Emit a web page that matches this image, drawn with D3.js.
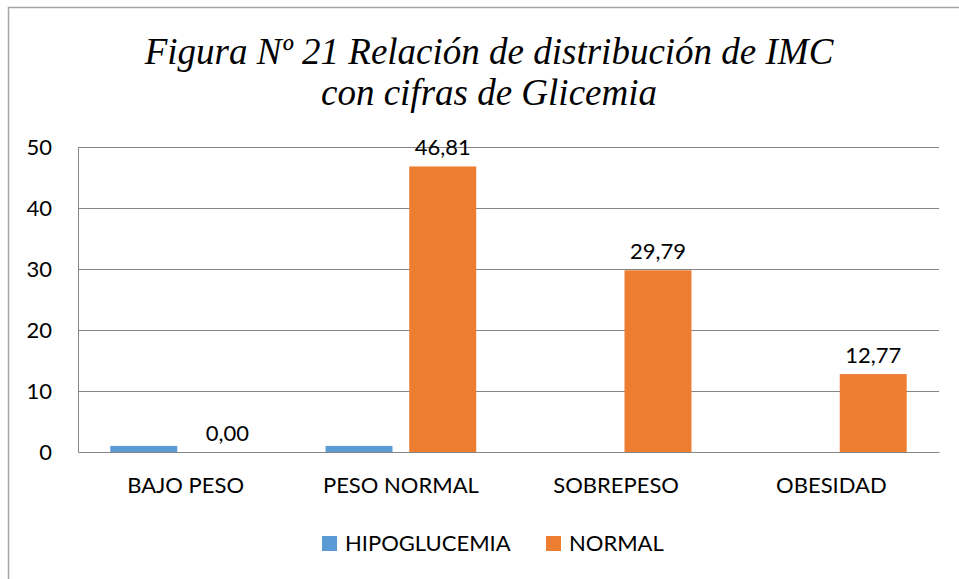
<!DOCTYPE html>
<html>
<head>
<meta charset="utf-8">
<script src="https://cdn.jsdelivr.net/npm/d3@7"></script>
<style>
  body { margin: 0; background: #fff; }
  svg text { font-family: Lato, "Open Sans", sans-serif; fill: #000; }
  svg text.title { font-family: "Liberation Serif", "Times New Roman", serif; font-style: italic; }
</style>
</head>
<body>
<div id="chart"></div>
<script>
// --- data ---
const categories = ["BAJO PESO", "PESO NORMAL", "SOBREPESO", "OBESIDAD"];
const seriesNames = ["HIPOGLUCEMIA", "NORMAL"];
const hipoglucemia = [1, 1, 0, 0];
const normal = [0.00, 46.81, 29.79, 12.77];
const yTicks = [0, 10, 20, 30, 40, 50];
const colors = ["#5b9bd5", "#ed7d31"];

const W = 959, H = 579;
const plot = { left: 78, right: 939, top: 147, bottom: 452 };
const fontSize = "22px";

const svg = d3.select("#chart").append("svg")
    .attr("width", W)
    .attr("height", H);

// chart frame
svg.append("rect")
    .attr("x", 8.5).attr("y", 7.5)
    .attr("width", W + 20).attr("height", H + 20)
    .attr("fill", "#fff")
    .attr("stroke", "#a6a6a6")
    .attr("stroke-width", 1.5);

// title
const title = svg.append("text")
    .attr("class", "title")
    .attr("text-anchor", "middle")
    .style("font-size", "37px");
title.append("tspan").attr("x", 489).attr("y", 64).text("Figura Nº 21 Relación de distribución de IMC");
title.append("tspan").attr("x", 489).attr("y", 105).text("con cifras de Glicemia");

const x0 = d3.scaleBand()
    .domain(categories)
    .range([plot.left, plot.right])
    .paddingInner(0.3)
    .paddingOuter(0.15);

const x1 = d3.scaleBand()
    .domain(seriesNames)
    .range([0, x0.bandwidth()])
    .paddingInner(0.2);

const y = d3.scaleLinear()
    .domain([0, 50])
    .range([plot.bottom, plot.top]);

// gridlines
svg.append("g")
    .selectAll("line")
    .data(yTicks.filter(d => d > 0))
    .join("line")
    .attr("x1", plot.left).attr("x2", plot.right)
    .attr("y1", d => Math.round(y(d)) + 0.5)
    .attr("y2", d => Math.round(y(d)) + 0.5)
    .attr("stroke", "#868686")
    .attr("stroke-width", 1);

// y axis labels
const yAxis = svg.append("g")
    .attr("transform", `translate(${plot.left},0)`)
    .call(d3.axisLeft(y).tickValues(yTicks).tickSize(0).tickPadding(26).tickFormat(d3.format("d")));
yAxis.select(".domain").attr("stroke", "#868686");
yAxis.selectAll("text")
    .style("font-size", fontSize)
    .style("font-family", "Lato, sans-serif")
    .attr("fill", "#000");

// bars
const rows = categories.map((c, i) => ({ cat: c, vals: [hipoglucemia[i], normal[i]] }));

const groups = svg.append("g")
    .selectAll("g")
    .data(rows)
    .join("g")
    .attr("transform", d => `translate(${x0(d.cat)},0)`);

groups.selectAll("rect")
    .data(d => d.vals.map((v, j) => ({ key: seriesNames[j], v, j })))
    .join("rect")
    .attr("x", d => x1(d.key))
    .attr("y", d => y(d.v))
    .attr("width", x1.bandwidth())
    .attr("height", d => y(0) - y(d.v))
    .attr("fill", d => colors[d.j]);

// data labels on NORMAL series
groups.append("text")
    .attr("x", x1("NORMAL") + x1.bandwidth() / 2)
    .attr("y", (d, i) => y(normal[i]) - 11)
    .attr("text-anchor", "middle")
    .style("font-size", fontSize)
    .text((d, i) => normal[i].toFixed(2).replace(".", ","));

// x axis
const xAxis = svg.append("g")
    .attr("transform", `translate(0,${plot.bottom})`)
    .call(d3.axisBottom(x0).tickSize(0).tickPadding(25));
xAxis.select(".domain").attr("stroke", "#868686");
xAxis.selectAll("text")
    .style("font-size", fontSize)
    .style("font-family", "Lato, sans-serif")
    .attr("fill", "#000");

// legend
const legendX = [322, 546];
const legend = svg.append("g")
    .selectAll("g")
    .data(seriesNames)
    .join("g")
    .attr("transform", (d, i) => `translate(${legendX[i]},536)`);
legend.append("rect")
    .attr("width", 15).attr("height", 15)
    .attr("fill", (d, i) => colors[i]);
legend.append("text")
    .attr("x", 23).attr("y", 15)
    .style("font-size", fontSize)
    .text(d => d);
</script>
</body>
</html>
